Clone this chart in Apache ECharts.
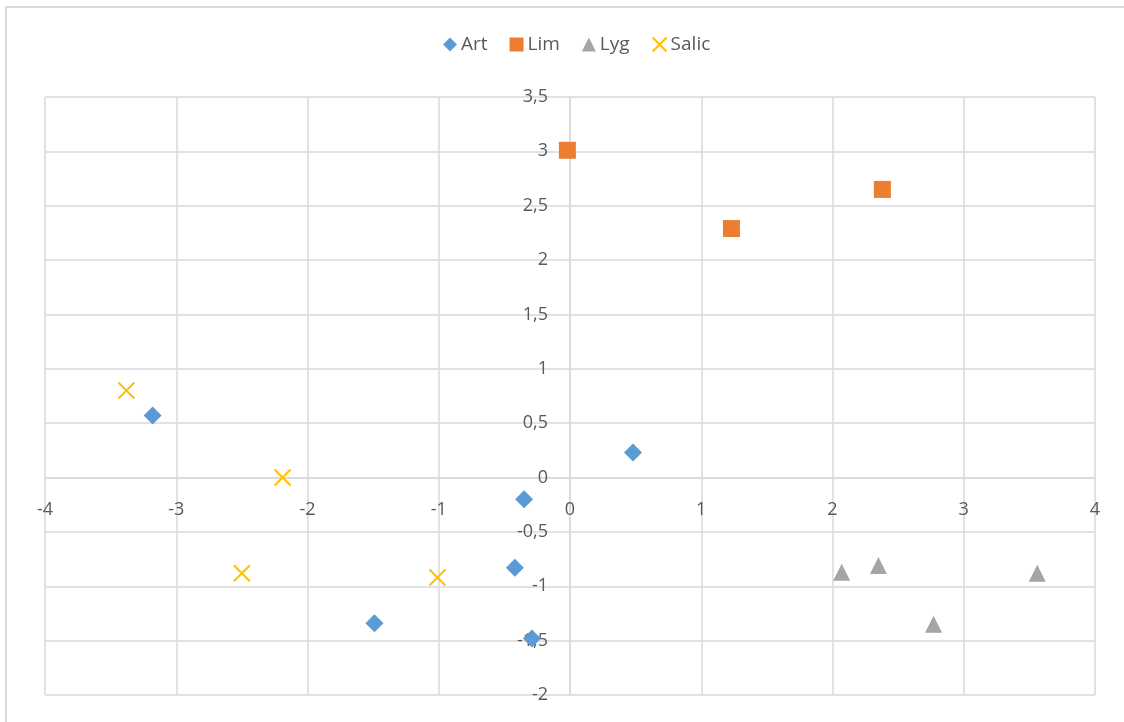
<!DOCTYPE html>
<html>
<head>
<meta charset="utf-8">
<script src="https://cdn.jsdelivr.net/npm/echarts@6/dist/echarts.min.js"></script>
<style>
  html, body { margin: 0; padding: 0; background: #fff; }
  #frame { position: absolute; left: 5px; top: 6px; width: 1130px; height: 730px; border: 2px solid #d9d9d9; box-sizing: border-box; }
  #chart { position: absolute; left: 0; top: 0; width: 1124px; height: 722px; }
</style>
</head>
<body>
<div id="frame"></div>
<div id="chart"></div>
<script>
  // series data, [x, y]
  const artData = [[-3.18, 0.57], [0.48, 0.23], [-0.35, -0.2], [-0.42, -0.83], [-1.49, -1.34], [-0.29, -1.48]]
  const limData = [[-0.02, 3.01], [1.23, 2.29], [2.38, 2.65]]
  const lygData = [[2.07, -0.87], [2.35, -0.81], [2.77, -1.35], [3.56, -0.88]]
  const salicData = [[-3.38, 0.8], [-2.19, 0.0], [-2.5, -0.88], [-1.01, -0.92]]
  const seriesNames = ['Art', 'Lim', 'Lyg', 'Salic']

  const xMin = -4, xMax = 4
  const yMin = -2, yMax = 3.5

  const chart = echarts.init(document.getElementById('chart'))
  const labelColor = '#595959'
  const gridColor = '#d9d9d9'
  const comma = v => String(v).replace('.', ',')

  const grid = { left: 45, right: 29, top: 97, bottom: 27 }
  const plotW = 1124 - grid.left - grid.right
  const plotH = 722 - grid.top - grid.bottom
  // axes cross at the origin, like the spreadsheet chart
  const xAxisOffset = -plotH * (0 - yMin) / (yMax - yMin)
  const yAxisOffset = -plotW * (0 - xMin) / (xMax - xMin)

  const options = {
    animation: false,
    textStyle: { fontFamily: 'Open Sans' },
    legend: {
      top: 30,
      left: 438,
      itemGap: 22,
      itemWidth: 14,
      itemHeight: 14,
      textStyle: { color: labelColor, fontSize: 19, padding: [0, 0, 0, -1] },
      data: seriesNames
    },
    grid: Object.assign({ outerBoundsMode: 'none', containLabel: false }, grid),
    xAxis: {
      type: 'value',
      min: xMin,
      max: xMax,
      interval: 1,
      offset: xAxisOffset,
      axisLine: { show: true, onZero: false, lineStyle: { color: gridColor, width: 1.5 } },
      axisTick: { show: false },
      axisLabel: { color: labelColor, fontSize: 18, margin: 23, formatter: comma },
      splitLine: { show: true, lineStyle: { color: gridColor, width: 1.5 } }
    },
    yAxis: {
      type: 'value',
      min: yMin,
      max: yMax,
      interval: 0.5,
      offset: yAxisOffset,
      axisLine: { show: true, onZero: false, lineStyle: { color: gridColor, width: 1.5 } },
      axisTick: { show: false },
      axisLabel: { color: labelColor, fontSize: 18, margin: 22, formatter: comma },
      splitLine: { show: true, lineStyle: { color: gridColor, width: 1.5 } }
    },
    series: [
      {
        name: 'Art', type: 'scatter', data: artData,
        symbol: 'diamond', symbolSize: 18,
        itemStyle: { color: '#5B9BD5', opacity: 1 }
      },
      {
        name: 'Lim', type: 'scatter', data: limData,
        symbol: 'rect', symbolSize: 17,
        itemStyle: { color: '#ED7D31', opacity: 1 }
      },
      {
        name: 'Lyg', type: 'scatter', data: lygData,
        symbol: 'triangle', symbolSize: [17, 17],
        itemStyle: { color: '#A5A5A5', opacity: 1 }
      },
      {
        name: 'Salic', type: 'scatter', data: salicData,
        symbol: 'path://M0,0L10,10M10,0L0,10', symbolSize: 16,
        itemStyle: { color: 'rgba(0,0,0,0)', borderColor: '#FFC000', borderWidth: 2, opacity: 1 }
      }
    ]
  }

  chart.setOption(options)
</script>
</body>
</html>
